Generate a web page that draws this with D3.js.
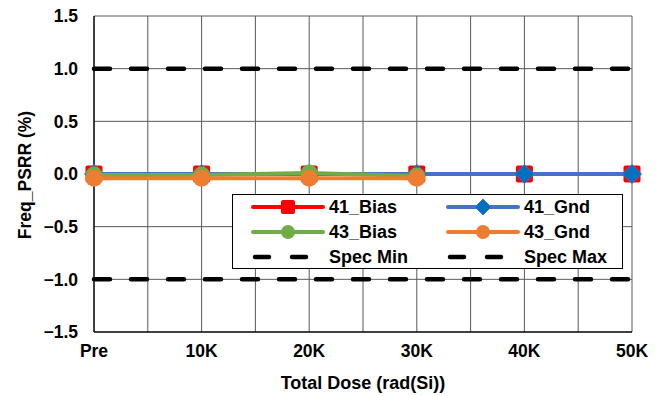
<!DOCTYPE html>
<html>
<head>
  <meta charset="UTF-8" />
  <title>Freq_PSRR vs Total Dose</title>
  <script src="https://d3js.org/d3.v7.min.js"></script>
  <style>
    body { margin: 0; background: #fff; }
    text { font-family: "Liberation Sans", Arial, sans-serif; font-weight: bold; fill: #000; }
    .grid line { stroke: #595959; stroke-width: 1; }
  </style>
</head>
<body>
  <svg id="chart" width="666" height="396"></svg>
  <script>
    // data
    const categories = ["Pre", "10K", "20K", "30K", "40K", "50K"];
    const bias41 = [0, 0, 0, 0, 0, 0];
    const gnd41 = [0, 0, 0, 0, 0, 0];
    const bias43 = [-0.01, -0.01, 0.01, -0.02];
    const gnd43 = [-0.04, -0.04, -0.04, -0.04];
    const specMin = [-1, -1, -1, -1, -1, -1];
    const specMax = [1, 1, 1, 1, 1, 1];
    const yTicks = [-1.5, -1.0, -0.5, 0, 0.5, 1.0, 1.5];

    const series = [
      { name: "41_Bias", values: bias41, color: "#FF0000", marker: "square", mcolor: "#FF0000" },
      { name: "41_Gnd", values: gnd41, color: "#4472C4", marker: "diamond", mcolor: "#0070C0" },
      { name: "43_Bias", values: bias43, color: "#70AD47", marker: "circle", mcolor: "#70AD47" },
      { name: "43_Gnd", values: gnd43, color: "#ED7D31", marker: "circle", mcolor: "#ED7D31" }
    ];
    const specs = [
      { name: "Spec Min", values: specMin },
      { name: "Spec Max", values: specMax }
    ];

    const plotL = 94, plotR = 632, plotT = 16, plotB = 332;
    const svg = d3.select("#chart");

    const x = d3.scaleLinear().domain([0, categories.length - 1]).range([plotL, plotR]);
    const y = d3.scaleLinear().domain([-1.5, 1.5]).range([plotB, plotT]);

    // grid: vertical lines every half category, horizontal at each tick
    const grid = svg.append("g").attr("class", "grid");
    grid.selectAll("line.v")
      .data(d3.range(0.5, categories.length - 1 + 0.01, 0.5))
      .join("line")
      .attr("class", "v")
      .attr("x1", d => x(d)).attr("x2", d => x(d))
      .attr("y1", plotT).attr("y2", plotB);
    grid.selectAll("line.h")
      .data(yTicks.slice(1))
      .join("line")
      .attr("class", "h")
      .attr("x1", plotL).attr("x2", plotR)
      .attr("y1", d => y(d)).attr("y2", d => y(d));

    // axes frame (left + bottom black)
    svg.append("line").attr("x1", plotL).attr("x2", plotL).attr("y1", plotT).attr("y2", plotB)
      .attr("stroke", "#000").attr("stroke-width", 1.5);
    svg.append("line").attr("x1", plotL).attr("x2", plotR).attr("y1", plotB).attr("y2", plotB)
      .attr("stroke", "#000").attr("stroke-width", 1.5);

    // tick labels
    svg.append("g").selectAll("text")
      .data(yTicks)
      .join("text")
      .attr("x", 78)
      .attr("y", d => y(d))
      .attr("dy", "0.36em")
      .attr("text-anchor", "end")
      .attr("font-size", 17.5)
      .text(d => d3.format(".1f")(d));

    svg.append("g").selectAll("text")
      .data(categories)
      .join("text")
      .attr("x", (d, i) => x(i))
      .attr("y", 357)
      .attr("text-anchor", "middle")
      .attr("font-size", 17.5)
      .text(d => d);

    // axis titles
    svg.append("text")
      .attr("x", (plotL + plotR) / 2)
      .attr("y", 389)
      .attr("text-anchor", "middle")
      .attr("font-size", 18)
      .text("Total Dose (rad(Si))");
    svg.append("text")
      .attr("transform", "translate(31,175) rotate(-90)")
      .attr("text-anchor", "middle")
      .attr("font-size", 17.5)
      .text("Freq_PSRR (%)");

    // spec lines
    const line = d3.line().x((d, i) => x(i)).y(d => y(d));
    svg.append("g").selectAll("path")
      .data(specs)
      .join("path")
      .attr("d", d => line(d.values))
      .attr("fill", "none")
      .attr("stroke", "#000")
      .attr("stroke-width", 4.5)
      .attr("stroke-linecap", "round")
      .attr("stroke-dasharray", "16,21");

    function drawMarker(g, s, size) {
      if (s.marker === "square") {
        g.append("rect")
          .attr("x", -size / 2).attr("y", -size / 2)
          .attr("width", size).attr("height", size)
          .attr("rx", 2)
          .attr("fill", s.mcolor);
      } else if (s.marker === "diamond") {
        const h = size / 2 + 1;
        g.append("path")
          .attr("d", `M0,${-h}L${h},0L0,${h}L${-h},0Z`)
          .attr("fill", s.mcolor)
          .attr("stroke", s.color).attr("stroke-width", 1);
      } else {
        g.append("circle").attr("r", size / 2).attr("fill", s.mcolor);
      }
    }

    // data series, drawn in order so later series sit on top
    series.forEach(s => {
      const g = svg.append("g");
      g.append("path")
        .attr("d", line(s.values))
        .attr("fill", "none")
        .attr("stroke", s.color)
        .attr("stroke-width", 4)
        .attr("stroke-linejoin", "round");
      g.selectAll("g.m")
        .data(s.values)
        .join("g")
        .attr("class", "m")
        .attr("transform", (d, i) => `translate(${x(i)},${y(d)})`)
        .each(function () { drawMarker(d3.select(this), s, 17); });
    });

    // legend
    const lg = svg.append("g");
    lg.append("rect")
      .attr("x", 232.5).attr("y", 194.5)
      .attr("width", 390).attr("height", 74)
      .attr("fill", "#fff").attr("stroke", "#000").attr("stroke-width", 1);

    const legendItems = [
      { s: series[0], col: 0, row: 0 },
      { s: series[1], col: 1, row: 0 },
      { s: series[2], col: 0, row: 1 },
      { s: series[3], col: 1, row: 1 },
      { s: specs[0], col: 0, row: 2, spec: true },
      { s: specs[1], col: 1, row: 2, spec: true }
    ];
    const colX = [253, 448];
    const rowY = [207, 232, 257];
    legendItems.forEach(it => {
      const x0 = colX[it.col], yy = rowY[it.row];
      const g = lg.append("g");
      if (it.spec) {
        g.append("line")
          .attr("x1", x0 + 2).attr("x2", x0 + 68)
          .attr("y1", yy).attr("y2", yy)
          .attr("stroke", "#000").attr("stroke-width", 4.5)
          .attr("stroke-linecap", "round")
          .attr("stroke-dasharray", "14,23");
      } else {
        g.append("line")
          .attr("x1", x0).attr("x2", x0 + 70)
          .attr("y1", yy).attr("y2", yy)
          .attr("stroke", it.s.color).attr("stroke-width", 4)
          .attr("stroke-linecap", "round");
        const m = g.append("g").attr("transform", `translate(${x0 + 35},${yy})`);
        drawMarker(m, it.s, 14);
      }
      g.append("text")
        .attr("x", x0 + 76)
        .attr("y", yy)
        .attr("dy", "0.36em")
        .attr("font-size", 18)
        .text(it.s.name);
    });
  </script>
</body>
</html>
